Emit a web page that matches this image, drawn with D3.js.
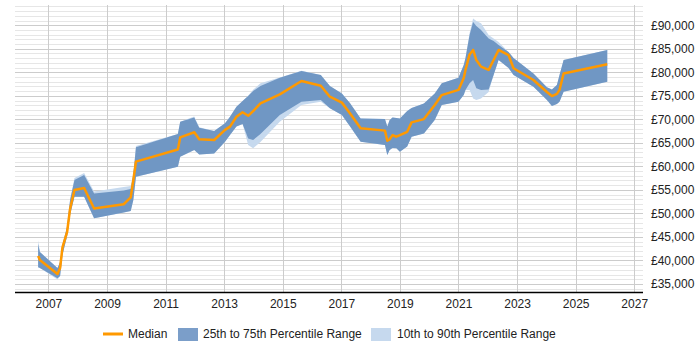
<!DOCTYPE html>
<html>
<head>
<meta charset="utf-8">
<script src="https://cdn.jsdelivr.net/npm/d3@7"></script>
<style>
  body { margin: 0; background: #fff; }
  text { font-family: Arial, "Liberation Sans", sans-serif; }
</style>
</head>
<body>
<script>
// sample dates (decimal years) and salary percentiles
const dates = [2006.65, 2006.71, 2007.31, 2007.40, 2007.48, 2007.64, 2007.74, 2007.89, 2008.22, 2008.56,
  2009.57, 2009.81, 2009.90, 2009.99, 2011.42, 2011.50, 2011.98, 2012.15, 2012.66, 2013.03,
  2013.20, 2013.42, 2013.63, 2013.82, 2013.99, 2014.24, 2014.90, 2015.64, 2016.30, 2016.61,
  2017.02, 2017.30, 2017.66, 2018.49, 2018.57, 2018.65, 2018.75, 2018.88, 2019.00, 2019.25,
  2019.40, 2019.82, 2020.19, 2020.43, 2021.00, 2021.18, 2021.24, 2021.38, 2021.50, 2021.61,
  2021.77, 2022.03, 2022.20, 2022.37, 2022.71, 2022.88, 2023.56, 2024.02, 2024.19, 2024.36,
  2024.45, 2024.59, 2026.08];

const p10 = [38400, 38400, 35950, 36700, 41150, 45200, 49650, 53550, 53550, 48950,
  50200, 50500, 52850, 57800, 59900, 62050, 63500, 62550, 62750, 65250,
  66650, 68450, 69000, 64550, 63850, 65200, 69500, 73050, 73750, 72350,
  70900, 68450, 65250, 64550, 62400, 63500, 63900, 63850, 63100, 64200,
  66300, 67000, 69850, 73050, 73750, 75150, 76250, 76250, 74450, 74100,
  74450, 75800, 79400, 82600, 80900, 79400, 76950, 74100, 72850, 73250,
  73750, 75850, 78000];

const p25 = [38600, 38400, 36200, 36700, 41150, 45200, 49650, 53550, 53550, 48950,
  50200, 50500, 52850, 57800, 59900, 62050, 63500, 62550, 62750, 65250,
  66650, 68450, 69000, 65950, 65600, 66900, 70900, 73750, 74100, 72350,
  70900, 68450, 65250, 64550, 62400, 63500, 63900, 63850, 63100, 64200,
  66300, 67000, 69850, 73050, 73750, 75150, 76250, 77650, 78350, 76600,
  76250, 76350, 79400, 82600, 80900, 79400, 76950, 74100, 72850, 73250,
  73750, 75850, 78000];

const median = [40950, 40100, 37130, 38400, 42800, 46100, 50950, 54980, 55400, 51050,
  51950, 53400, 57100, 61000, 63600, 66150, 67250, 65750, 65600, 67750,
  68450, 70550, 71500, 70750, 71750, 73400, 75300, 78150, 77150, 74800,
  73550, 71250, 68100, 67600, 65450, 65750, 66650, 66300, 66650, 67350,
  69350, 70050, 73050, 75150, 76250, 78800, 80500, 83800, 84750, 82600,
  81200, 80500, 82600, 84750, 83650, 80850, 78350, 75800, 74950, 75400,
  76250, 79750, 81700];

const p75 = [43500, 41800, 38400, 39700, 43300, 47200, 52850, 57100, 58150, 54250,
  54850, 55200, 58150, 64050, 66900, 69500, 70400, 68200, 67500, 69150,
  70550, 72700, 73900, 74950, 76000, 77100, 78850, 80250, 79400, 77100,
  75500, 73400, 70200, 70050, 68450, 69850, 70400, 70300, 70200, 71750,
  72400, 73350, 75500, 77650, 78850, 81550, 83050, 87900, 90700, 89850,
  89000, 87200, 86650, 85800, 84300, 83050, 79750, 76800, 76350, 77300,
  79400, 82600, 84750];

const p90 = [44300, 41800, 38400, 39700, 43300, 47200, 52850, 57550, 58600, 54650,
  55600, 55850, 58300, 64350, 66900, 69500, 70600, 68300, 67500, 69150,
  70550, 72700, 73900, 75000, 76300, 77650, 78900, 80300, 79400, 77100,
  75500, 73400, 70200, 70050, 68450, 69850, 70400, 70300, 70200, 71750,
  72400, 73350, 75500, 77650, 78850, 81550, 83050, 88350, 91450, 90900,
  90400, 87900, 87200, 86450, 84300, 83050, 79750, 76800, 76350, 77300,
  79400, 82600, 84750];

const yearTicks = [2007, 2009, 2011, 2013, 2015, 2017, 2019, 2021, 2023, 2025, 2027];
const salaryTicks = [35000, 40000, 45000, 50000, 55000, 60000, 65000, 70000, 75000, 80000, 85000, 90000];
const minorTicks = d3.range(34000, 94001, 1000);

const legendItems = ["Median", "25th to 75th Percentile Range", "10th to 90th Percentile Range"];

const width = 700;
const height = 350;
const plotLeft = 15, plotRight = 643, plotTop = 5, plotBottom = 292;

const x = d3.scaleLinear().domain([2005.86, 2027.3]).range([plotLeft, plotRight]);
const y = d3.scaleLinear().domain([33300, 94300]).range([plotBottom, plotTop]);

const rows = dates.map((d, i) => ({
  t: d, p10: p10[i], p25: p25[i], p50: median[i], p75: p75[i], p90: p90[i]
}));

const svg = d3.select("body").append("svg")
  .attr("width", width)
  .attr("height", height);

// minor and major horizontal grid
svg.append("g").selectAll("line").data(minorTicks).join("line")
  .attr("x1", plotLeft).attr("x2", plotRight)
  .attr("y1", d => Math.round(y(d)) + 0.5).attr("y2", d => Math.round(y(d)) + 0.5)
  .attr("stroke", d => d % 5000 === 0 ? "#cccccc" : "#e6e6e6")
  .attr("stroke-width", 1);

// vertical grid
svg.append("g").selectAll("line").data(yearTicks).join("line")
  .attr("x1", d => Math.round(x(d)) + 0.5).attr("x2", d => Math.round(x(d)) + 0.5)
  .attr("y1", plotTop).attr("y2", plotBottom)
  .attr("stroke", "#cccccc");

const outer = d3.area().x(d => x(d.t)).y0(d => y(d.p10)).y1(d => y(d.p90));
const inner = d3.area().x(d => x(d.t)).y0(d => y(d.p25)).y1(d => y(d.p75));
const line = d3.line().x(d => x(d.t)).y(d => y(d.p50));

svg.append("path").datum(rows).attr("d", outer).attr("fill", "#c6d9ee");
svg.append("path").datum(rows).attr("d", inner).attr("fill", "#7097c4");
svg.append("path").datum(rows).attr("d", line)
  .attr("fill", "none")
  .attr("stroke", "#ff9900")
  .attr("stroke-width", 2.5)
  .attr("stroke-linejoin", "round");

// x axis
const xAxis = svg.append("g")
  .attr("transform", `translate(0,${plotBottom})`)
  .call(d3.axisBottom(x).tickValues(yearTicks).tickFormat(d3.format("d")).tickSize(0).tickPadding(7));
xAxis.select(".domain").attr("stroke", "#000").attr("stroke-width", 1.5)
  .attr("d", `M${plotLeft},0.5H${plotRight}`);
xAxis.selectAll("text").attr("font-size", 12).attr("fill", "#222")
  .style("font-family", "Arial, 'Liberation Sans', sans-serif");

// y axis on the right
const yAxis = svg.append("g")
  .attr("transform", `translate(${plotRight},0)`)
  .call(d3.axisRight(y).tickValues(salaryTicks)
    .tickFormat(d => "£" + d3.format(",")(d)).tickSize(0).tickPadding(8));
yAxis.select(".domain").remove();
yAxis.selectAll("text").attr("font-size", 12).attr("fill", "#222")
  .style("font-family", "Arial, 'Liberation Sans', sans-serif");

// legend
const legend = svg.append("g").attr("font-size", 12).attr("fill", "#222");
legend.append("line")
  .attr("x1", 103).attr("x2", 123).attr("y1", 334).attr("y2", 334)
  .attr("stroke", "#ff9900").attr("stroke-width", 3);
legend.append("text").attr("x", 128).attr("y", 338).text(legendItems[0]);
legend.append("rect").attr("x", 178).attr("y", 328).attr("width", 20).attr("height", 13)
  .attr("fill", "#7b9ec9");
legend.append("text").attr("x", 203).attr("y", 338).text(legendItems[1]);
legend.append("rect").attr("x", 371).attr("y", 328).attr("width", 20).attr("height", 13)
  .attr("fill", "#c6d9ee");
legend.append("text").attr("x", 397).attr("y", 338).text(legendItems[2]);
</script>
</body>
</html>
